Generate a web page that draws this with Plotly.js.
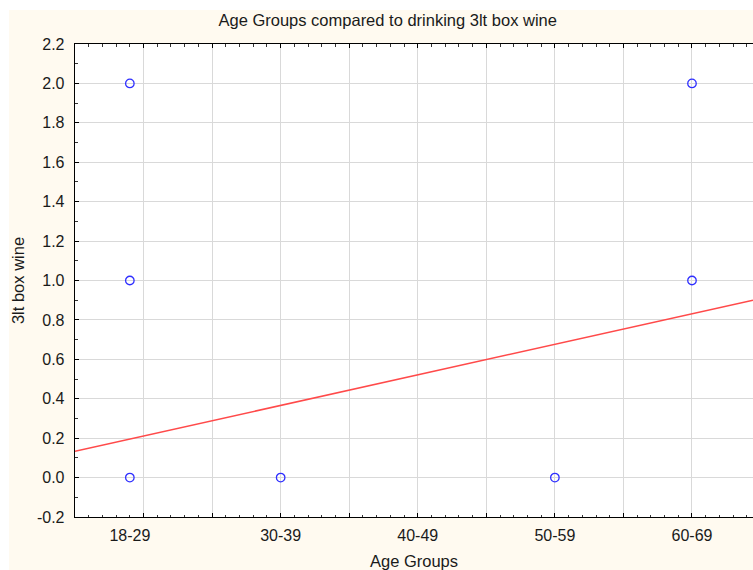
<!DOCTYPE html>
<html>
<head>
<meta charset="utf-8">
<script src="https://cdn.plot.ly/plotly-3.0.1.min.js"></script>
<style>
  html, body { margin: 0; padding: 0; background: #ffffff; }
  #chart { position: absolute; left: 9px; top: 10px; width: 744px; height: 560px; }
</style>
</head>
<body>
<div id="chart"></div>
<script>
// Age group categories and where they sit on the numeric x scale
const ageGroups = ['18-29', '30-39', '40-49', '50-59', '60-69'];
const ageGroupPos = [0.9, 2, 3, 4, 5];

// Y tick values and their labels (plain hyphen for negatives)
const wineTicks = [-0.2, 0, 0.2, 0.4, 0.6, 0.8, 1.0, 1.2, 1.4, 1.6, 1.8, 2.0, 2.2];
const wineTickText = ['-0.2', '0.0', '0.2', '0.4', '0.6', '0.8', '1.0', '1.2', '1.4', '1.6', '1.8', '2.0', '2.2'];

// Observed responses (3lt box wine) per age group
const obsAge = [0.9, 0.9, 0.9, 2, 4, 5, 5];
const obsWine = [0, 1, 2, 0, 0, 1, 2];

// Linear fit: wine = intercept + slope * age
const fitIntercept = 0.056;
const fitSlope = 0.155;

const xRange = [0.5, 5.445];
const yRange = [-0.2, 2.2];

const fitX = xRange.slice();
const fitY = fitX.map(x => fitIntercept + fitSlope * x);

const family = 'Liberation Sans, Arial, sans-serif';
const tickFont = { family: family, size: 16, color: '#1a1a1a' };
const titleFont = { family: family, size: 16.5, color: '#1a1a1a' };
const cream = '#fffaf0';

const traces = [
  {
    x: fitX, y: fitY, type: 'scatter', mode: 'lines',
    line: { color: '#ff4a4a', width: 1.5 },
    hoverinfo: 'skip', showlegend: false
  },
  {
    x: obsAge, y: obsWine, type: 'scatter', mode: 'markers',
    marker: { symbol: 'circle-open', size: 8.5, color: '#2f2fff', line: { width: 1.3 } },
    showlegend: false
  },
  // an invisible trace so the label axis is drawn
  { x: xRange, y: [null, null], xaxis: 'x2', yaxis: 'y', type: 'scatter', mode: 'lines', hoverinfo: 'skip', showlegend: false }
];

const layout = {
  width: 744, height: 560,
  paper_bgcolor: cream, plot_bgcolor: '#ffffff',
  font: tickFont,
  margin: { l: 66, r: 0, t: 34, b: 53 },
  showlegend: false,
  title: {
    text: 'Age Groups compared to drinking 3lt box wine',
    font: titleFont,
    xref: 'container', x: 0.509, xanchor: 'center',
    yref: 'container', y: 0.981, yanchor: 'middle'
  },
  // grid and tick axis
  xaxis: {
    range: xRange, dtick: 0.5, tick0: 0.5,
    showgrid: true, gridcolor: '#d9d9d9', gridwidth: 1,
    zeroline: false,
    showline: true, linecolor: '#000000', linewidth: 1.3, mirror: 'ticks',
    ticks: 'inside', ticklen: 4, tickcolor: '#000000', tickwidth: 1,
    minor: { dtick: 0.1, tick0: 0.5, ticks: 'inside', ticklen: 2.5, tickcolor: '#333333', showgrid: false },
    showticklabels: false
  },
  // age group labels
  xaxis2: {
    overlaying: 'x', anchor: 'y', side: 'bottom',
    range: xRange,
    tickmode: 'array', tickvals: ageGroupPos, ticktext: ageGroups,
    ticks: '', showgrid: false, zeroline: false, showline: false,
    ticklabelstandoff: 7,
    tickfont: tickFont,
    title: { text: 'Age Groups', font: titleFont, standoff: 13 }
  },
  yaxis: {
    range: yRange, tickmode: 'array', tickvals: wineTicks, ticktext: wineTickText,
    showgrid: true, gridcolor: '#d9d9d9', gridwidth: 1,
    zeroline: false,
    showline: true, linecolor: '#000000', linewidth: 1.3,
    ticks: 'inside', ticklen: 4, tickcolor: '#000000',
    minor: { dtick: 0.1, tick0: 0, ticks: 'inside', ticklen: 2.5, tickcolor: '#333333', showgrid: false },
    ticklabelstandoff: 6,
    tickfont: tickFont,
    title: { text: '3lt box wine', font: titleFont, standoff: 9 }
  }
};

Plotly.newPlot('chart', traces, layout, { displayModeBar: false, staticPlot: true });
</script>
</body>
</html>
